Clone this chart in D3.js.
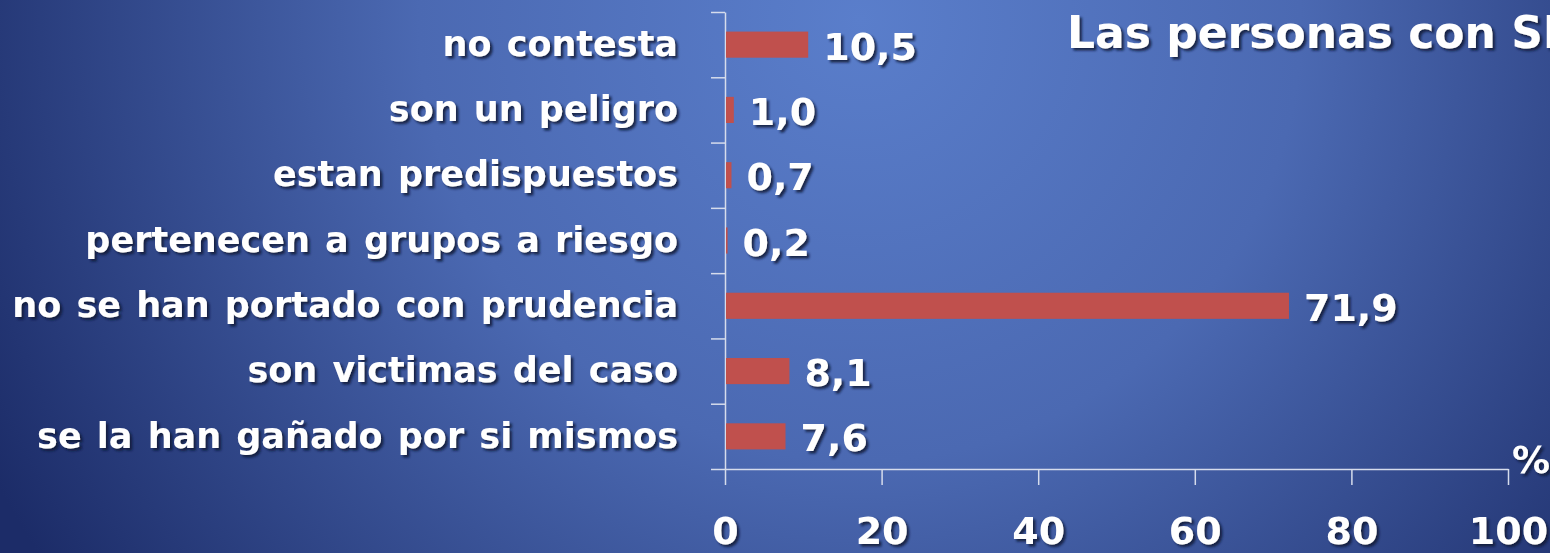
<!DOCTYPE html>
<html>
<head>
<meta charset="utf-8">
<script src="https://cdn.jsdelivr.net/npm/d3@7"></script>
<style>
  html, body { margin: 0; padding: 0; overflow: hidden; background: #2a4384; }
  svg { display: block; }
</style>
</head>
<body>
<div id="chart"></div>
<script>
const categories = [
  "no contesta",
  "son un peligro",
  "estan predispuestos",
  "pertenecen a grupos a riesgo",
  "no se han portado con prudencia",
  "son victimas del caso",
  "se la han gañado por si mismos"
];
const values = [10.5, 1.0, 0.7, 0.2, 71.9, 8.1, 7.6];
const xTicks = [0, 20, 40, 60, 80, 100];
const title = "Las personas con SIDA";
const unit = "%";

const width = 1550;
const height = 553;
const margin = ({top: 12, right: 42, bottom: 84, left: 725});
const font = "'Comic Sans MS', 'DejaVu Sans', sans-serif";

const locale = d3.formatLocale({decimal: ",", thousands: ".", grouping: [3], currency: ["", "€"]});
const fmt = locale.format(".1f");

const svg = d3.select("#chart").append("svg")
    .attr("width", width)
    .attr("height", height)
    .attr("viewBox", [0, 0, width, height]);

const defs = svg.append("defs");
const bg = defs.append("radialGradient")
    .attr("id", "bg")
    .attr("gradientUnits", "userSpaceOnUse")
    .attr("cx", 860).attr("cy", 20).attr("r", 980);
bg.append("stop").attr("offset", "0%").attr("stop-color", "#5a7ecb");
bg.append("stop").attr("offset", "45%").attr("stop-color", "#4b69b2");
bg.append("stop").attr("offset", "100%").attr("stop-color", "#1c2c68");

const shadow = defs.append("filter").attr("id", "shadow")
    .attr("x", "-10%").attr("y", "-20%").attr("width", "130%").attr("height", "160%");
shadow.append("feDropShadow")
    .attr("dx", 2.5).attr("dy", 2.5).attr("stdDeviation", 1.3)
    .attr("flood-color", "#0b1235").attr("flood-opacity", 0.85);

svg.append("rect")
    .attr("width", width).attr("height", height)
    .attr("fill", "url(#bg)");

const x = d3.scaleLinear()
    .domain([0, 100])
    .range([margin.left, width - margin.right]);

const y = d3.scaleBand()
    .domain(categories)
    .range([margin.top, height - margin.bottom])
    .paddingInner(0.6)
    .paddingOuter(0.3);

// band boundaries for the category ticks
const yEdge = d3.scaleLinear()
    .domain([0, categories.length])
    .range([margin.top, height - margin.bottom]);

const axisColor = "#d6dcec";

const yAxis = g => g
    .attr("transform", `translate(${margin.left},0)`)
    .call(d3.axisLeft(yEdge).tickValues(d3.range(categories.length + 1)).tickSize(14).tickSizeOuter(0).tickFormat(""))
    .call(g => g.selectAll("line, path").attr("stroke", axisColor).attr("stroke-width", 1.5));

const xAxis = g => g
    .attr("transform", `translate(0,${height - margin.bottom})`)
    .call(d3.axisBottom(x).tickValues(xTicks).tickSize(16).tickSizeOuter(0).tickPadding(32))
    .call(g => g.selectAll("line, path").attr("stroke", axisColor).attr("stroke-width", 1.5))
    .call(g => g.selectAll("text")
        .attr("fill", "#fff")
        .attr("font-family", font)
        .attr("font-size", 38)
        .attr("font-weight", "bold")
        .attr("filter", "url(#shadow)"));

svg.append("g").call(xAxis);
svg.append("g").call(yAxis);

svg.append("g")
    .attr("fill", "#c0504d")
  .selectAll("rect")
  .data(values)
  .join("rect")
    .attr("x", x(0) + 1)
    .attr("y", (d, i) => y(categories[i]))
    .attr("width", d => x(d) - x(0))
    .attr("height", y.bandwidth());

const textStyle = g => g
    .attr("fill", "#fff")
    .attr("font-family", font)
    .attr("font-weight", "bold")
    .attr("filter", "url(#shadow)");

svg.append("g")
    .call(textStyle)
    .attr("font-size", 35)
    .attr("word-spacing", 3)
    .attr("text-anchor", "end")
  .selectAll("text")
  .data(categories)
  .join("text")
    .attr("x", margin.left - 47)
    .attr("y", d => y(d) + y.bandwidth() / 2)
    .attr("dy", "0.32em")
    .text(d => d);

svg.append("g")
    .call(textStyle)
    .attr("font-size", 38)
  .selectAll("text")
  .data(values)
  .join("text")
    .attr("x", d => x(d) + 16)
    .attr("y", (d, i) => y(categories[i]) + y.bandwidth() / 2 + 15)
    .text(d => fmt(d));

svg.append("text")
    .call(textStyle)
    .attr("font-size", 44)
    .attr("x", 1067)
    .attr("y", 48)
    .text(title);

svg.append("text")
    .call(textStyle)
    .attr("font-size", 38)
    .attr("x", width - 38)
    .attr("y", height - 80)
    .text(unit);
</script>
</body>
</html>
